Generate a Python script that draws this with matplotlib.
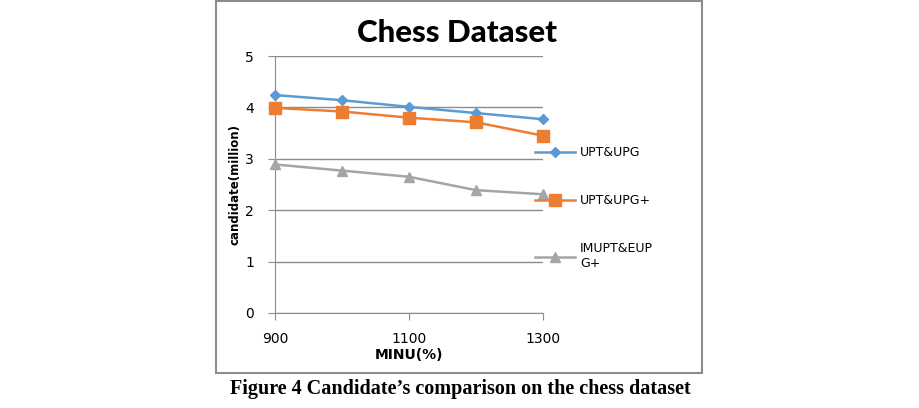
import matplotlib.pyplot as plt
from matplotlib.patches import Rectangle

# data
minu = [900, 1000, 1100, 1200, 1300]
upt_upg = [4.24, 4.14, 4.01, 3.89, 3.77]
upt_upg_plus = [3.99, 3.92, 3.80, 3.71, 3.45]
imupt_eupg_plus = [2.89, 2.77, 2.65, 2.39, 2.31]
x_ticks = [900, 1100, 1300]
y_ticks = [0, 1, 2, 3, 4, 5]

W, H = 919, 408
fig = plt.figure(figsize=(W / 100, H / 100), dpi=100)

# axes box in pixel terms
left, right, top, bottom = 275, 543, 56, 313
ax = fig.add_axes([left / W, 1 - bottom / H, (right - left) / W, (bottom - top) / H])

ax.plot(minu, upt_upg, color='#5B9BD5', marker='D', markersize=5, linewidth=1.8,
        label='UPT&UPG', clip_on=False, zorder=3)
ax.plot(minu, upt_upg_plus, color='#ED7D31', marker='s', markersize=8, linewidth=1.8,
        label='UPT&UPG+', clip_on=False, zorder=3)
ax.plot(minu, imupt_eupg_plus, color='#A5A5A5', marker='^', markersize=7, linewidth=1.8,
        label='IMUPT&EUP\nG+', clip_on=False, zorder=3)

ax.set_xlim(900, 1300)
ax.set_ylim(0, 5)
ax.set_xticks(x_ticks)
ax.set_yticks(y_ticks)
ax.grid(axis='y', color='#8c8c8c', linewidth=1)
ax.set_axisbelow(True)
for s in ['top', 'right']:
    ax.spines[s].set_visible(False)
for s in ['left', 'bottom']:
    ax.spines[s].set_color('#8c8c8c')
ax.tick_params(direction='out', length=5, color='#8c8c8c', labelsize=10, pad=10)
ax.tick_params(axis='x', pad=9)

ax.set_xlabel('MINU(%)', fontsize=10, fontweight='bold', labelpad=1)
ax.set_ylabel('candidate(million)', fontsize=8.5, fontweight='bold', labelpad=3)

fig.text(457 / W, 1 - 33 / H, 'Chess Dataset', ha='center', va='center',
         fontsize=22.5, fontweight='black', family='Lato')

ax.legend(loc='upper left', bbox_to_anchor=(535 / W, 1 - 146 / H),
          bbox_transform=fig.transFigure, frameon=False, fontsize=9,
          borderpad=0, borderaxespad=0, handlelength=3.2, handletextpad=0.4,
          labelspacing=2.8)

# outer chart frame
fig.add_artist(Rectangle((216 / W, 1 - 373 / H), (702 - 216) / W, 372 / H,
                         transform=fig.transFigure, fill=False,
                         edgecolor='#8c8c8c', linewidth=1.5))

fig.text(460 / W, 1 - 389 / H, 'Figure 4 Candidate\u2019s comparison on the chess dataset',
         ha='center', va='center', fontsize=14.5, fontweight='bold',
         family='Liberation Serif')

fig.savefig('out.png', dpi=100)
